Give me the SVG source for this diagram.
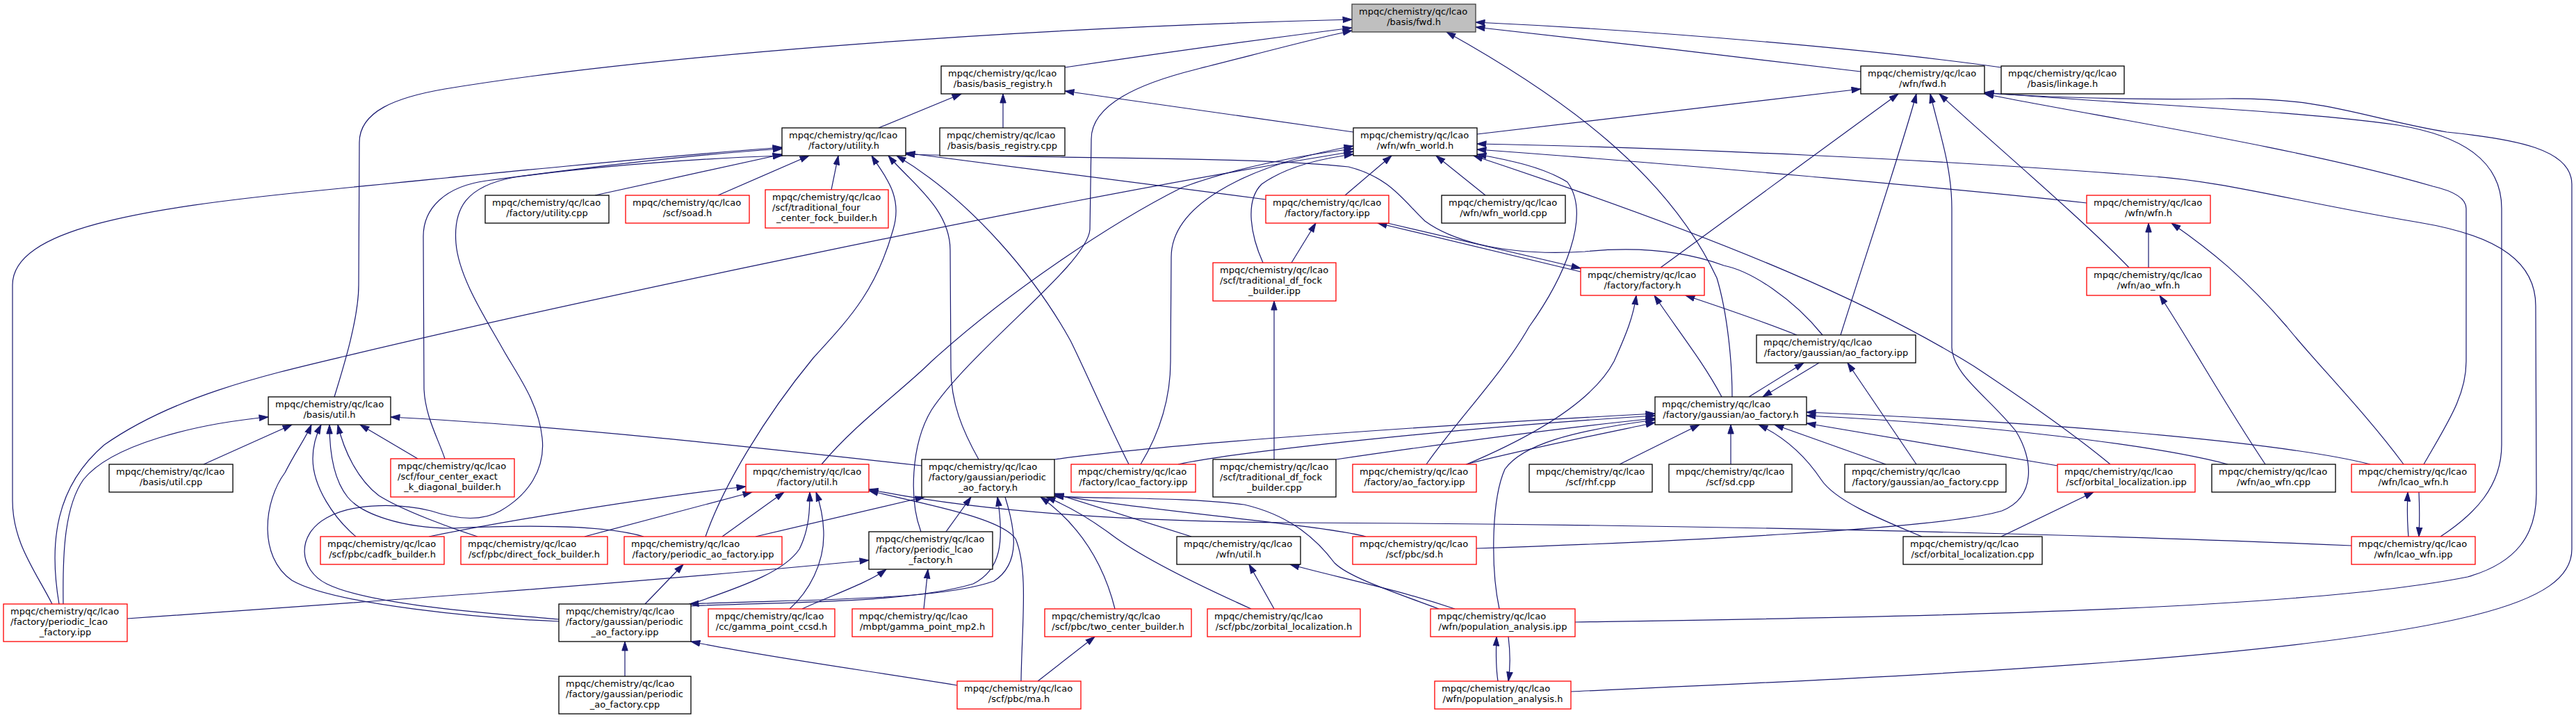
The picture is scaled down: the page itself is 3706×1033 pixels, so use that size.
<svg xmlns="http://www.w3.org/2000/svg" width="3706" height="1033" viewBox="0 0 3706 1033">
<style>
.b{fill:#fff;stroke:#000;stroke-width:1.3}
.r{fill:#fff;stroke:#f00;stroke-width:1.3}
.g{fill:#bfbfbf;stroke:#404040;stroke-width:1.3}
text{font-family:"DejaVu Sans","Liberation Sans",sans-serif;font-size:13px;fill:#000}
.m{text-anchor:middle}
.e path{fill:none;stroke:#191970;stroke-width:1.2;marker-end:url(#ah)}
</style>
<defs>
<marker id="ah" viewBox="0 0 14 10" refX="13.5" refY="5" markerWidth="14" markerHeight="10" markerUnits="userSpaceOnUse" orient="auto"><path d="M0.5,0.8 L13.5,5 L0.5,9.2 Z" fill="#191970" stroke="#191970" stroke-width="1"/></marker>
</defs>
<rect x="0" y="0" width="3706" height="1033" fill="#fff"/>
<g id="edges" class="e">
<path d="M1532,97 C1700,72 1850,52 1945,40"/>
<path d="M2879,97 C2700,72 2400,45 2123,32"/>
<path d="M2677,103 C2500,82 2300,58 2123,39"/>
<path d="M481,571 C492,535 516,460 516,410 L517,205 C517,160 570,140 640,128 C900,85 1400,42 1945,28"/>
<path d="M1325,765 C1308,720 1310,640 1340,590 C1400,500 1565,380 1568,330 L1570,200 C1570,150 1640,120 1720,100 C1800,80 1880,58 1945,44"/>
<path d="M2492,571 C2492,520 2485,450 2470,400 C2400,250 2250,140 2081,46"/>
<path d="M1264,184 L1383,135"/>
<path d="M1443,184 L1443,135"/>
<path d="M1947,190 L1532,131"/>
<path d="M2125,193 L2677,128"/>
<path d="M2389,385 L2731,135"/>
<path d="M2648,482 C2680,380 2740,200 2757,135"/>
<path d="M2124,789 C2400,780 2800,760 2880,735 C2930,715 2925,660 2900,620 C2860,570 2810,540 2808,500 L2808,300 C2808,240 2790,190 2777,135"/>
<path d="M3063,385 C2990,310 2860,200 2790,135"/>
<path d="M2260,995 C2700,975 3300,950 3560,885 C3660,860 3700,830 3700,790 L3700,265 C3700,215 3620,200 3520,190 C3400,170 3350,140 3200,142 C3080,144 2950,140 2855,134"/>
<path d="M3511,772 C3560,740 3599,700 3599,640 L3599,300 C3599,230 3540,195 3450,180 C3300,158 3050,150 2855,133"/>
<path d="M3487,668 C3520,610 3548,570 3548,520 L3548,300 C3548,285 3530,275 3500,268 C3300,210 3000,165 2855,135"/>
<path d="M856,281 L1125,222"/>
<path d="M1033,281 L1164,224"/>
<path d="M1196,273 L1206,224"/>
<path d="M75,869 C50,820 18,780 18,720 L18,410 C18,330 200,300 450,275 C700,250 950,225 1125,212"/>
<path d="M640,660 C630,630 612,600 610,560 L609,340 C609,300 640,268 700,260 C850,240 1000,222 1125,214"/>
<path d="M804,891 C700,882 530,870 470,840 C430,820 425,770 470,745 C510,722 580,725 620,735 C650,745 690,752 720,735 C760,712 785,675 780,630 C775,580 745,540 725,505 C700,460 660,400 656,350 C652,300 670,268 740,255 C850,240 1000,228 1125,224"/>
<path d="M1015,772 C1040,700 1100,600 1170,515 C1220,460 1260,420 1285,330 C1300,280 1270,250 1254,224"/>
<path d="M1408,661 C1385,620 1368,580 1368,530 L1367,360 C1367,300 1310,262 1278,224"/>
<path d="M1624,668 C1590,600 1560,530 1540,490 C1490,400 1400,290 1290,224"/>
<path d="M1821,287 L1303,220"/>
<path d="M2622,482 C2580,430 2520,390 2480,382 C2420,360 2350,355 2280,362 C2150,370 2080,340 2050,318 C2020,290 2000,255 1940,240 C1800,225 1500,228 1303,222"/>
<path d="M85,869 C70,780 80,700 150,640 C250,570 380,540 494,513 C800,440 1500,290 1947,218"/>
<path d="M1182,668 C1230,610 1300,560 1340,520 C1450,420 1600,320 1700,270 C1780,240 1880,222 1947,214"/>
<path d="M1641,668 C1670,620 1684,570 1684,520 L1685,370 C1685,300 1780,240 1947,210"/>
<path d="M1817,378 C1800,340 1790,290 1815,265 C1850,240 1900,228 1947,222"/>
<path d="M1935,281 L2002,224"/>
<path d="M2137,281 L2066,224"/>
<path d="M2052,668 C2100,600 2160,540 2200,470 C2250,400 2290,310 2255,262 C2220,240 2170,230 2125,222"/>
<path d="M3036,668 C2990,630 2920,580 2840,527 C2700,440 2500,350 2120,224"/>
<path d="M2266,895 C2700,888 3300,880 3550,830 C3620,810 3649,770 3649,710 L3648,440 C3648,380 3600,340 3480,320 C3300,290 3200,260 3086,253 C2800,230 2400,212 2125,207"/>
<path d="M3002,292 C2800,270 2400,235 2125,215"/>
<path d="M1858,378 L1893,321"/>
<path d="M2274,391 L1982,321"/>
<path d="M1996,321 L2274,386"/>
<path d="M2110,668 C2200,630 2290,580 2322,520 C2340,480 2350,455 2354,425"/>
<path d="M2477,571 C2450,520 2410,470 2380,425"/>
<path d="M2585,482 C2530,460 2470,440 2425,425"/>
<path d="M1833,661 L1833,433"/>
<path d="M3091,385 L3091,321"/>
<path d="M3458,668 C3400,590 3330,520 3290,470 C3230,400 3180,360 3124,321"/>
<path d="M3259,668 C3200,580 3150,490 3107,425"/>
<path d="M2516,571 L2595,522"/>
<path d="M2757,668 L2658,522"/>
<path d="M2617,522 L2536,571"/>
<path d="M1517,661 C1700,636 2100,610 2381,595"/>
<path d="M1695,668 C1780,650 2100,615 2381,598"/>
<path d="M1922,661 C2100,635 2250,615 2381,602"/>
<path d="M2109,668 C2200,645 2300,625 2381,608"/>
<path d="M2157,876 C2145,820 2145,720 2165,675 C2190,640 2260,620 2381,604"/>
<path d="M2330,668 L2445,611"/>
<path d="M2490,668 L2490,611"/>
<path d="M2765,772 C2700,745 2640,720 2620,690 C2600,660 2570,630 2530,611"/>
<path d="M2713,668 L2553,611"/>
<path d="M2960,670 L2599,609"/>
<path d="M3205,668 C3100,640 2850,610 2599,598"/>
<path d="M3410,668 C3300,640 3000,610 2599,593"/>
<path d="M2879,772 L3012,708"/>
<path d="M3465,772 C3463,750 3463,730 3464,708"/>
<path d="M3480,708 C3481,730 3481,750 3480,772"/>
<path d="M91,869 C90,800 92,730 120,690 C160,640 280,610 386,600"/>
<path d="M293,668 L420,611"/>
<path d="M804,894 C700,890 480,870 420,835 C370,800 380,720 410,680 C425,650 440,630 448,611"/>
<path d="M512,772 C480,745 450,700 450,660 C450,640 455,625 462,611"/>
<path d="M926,772 C870,755 760,755 650,760 C580,760 520,740 500,715 C480,690 474,650 474,611"/>
<path d="M687,772 C650,760 580,735 545,713 C515,690 495,650 486,611"/>
<path d="M601,660 L518,611"/>
<path d="M1326,670 C1100,645 800,612 562,600"/>
<path d="M617,772 C700,755 900,720 1073,700"/>
<path d="M841,772 L1082,708"/>
<path d="M1039,772 L1128,708"/>
<path d="M994,869 C1080,840 1130,820 1150,790 C1165,760 1165,730 1165,708"/>
<path d="M1136,876 C1165,850 1185,810 1185,770 C1185,745 1180,725 1174,708"/>
<path d="M1469,980 C1470,900 1480,820 1461,775 C1440,745 1330,725 1250,706"/>
<path d="M3383,785 C3000,768 2400,754 1860,752 C1600,750 1400,735 1250,704"/>
<path d="M1361,765 L1397,715"/>
<path d="M994,872 C1100,866 1300,870 1400,840 C1440,820 1445,780 1435,715"/>
<path d="M1446,715 C1460,760 1470,810 1430,836 C1350,865 1150,862 992,869"/>
<path d="M1087,772 L1330,715"/>
<path d="M1604,876 C1590,820 1560,760 1497,715"/>
<path d="M1800,876 C1720,840 1640,800 1600,770 C1560,740 1530,725 1505,715"/>
<path d="M1714,772 L1517,710"/>
<path d="M1965,772 C1900,755 1650,735 1517,712"/>
<path d="M2070,876 C2000,850 1940,830 1920,810 C1890,770 1850,740 1790,726 C1700,715 1600,718 1517,714"/>
<path d="M183,890 C500,868 900,840 1250,806"/>
<path d="M1154,876 C1200,855 1250,838 1275,819"/>
<path d="M1329,876 L1335,819"/>
<path d="M928,869 L983,812"/>
<path d="M899,973 L899,923"/>
<path d="M1377,986 C1250,965 1100,945 994,923"/>
<path d="M1493,980 L1575,916"/>
<path d="M1833,876 L1797,812"/>
<path d="M2093,876 C2000,845 1920,830 1856,812"/>
<path d="M2155,980 C2152,960 2152,940 2153,916"/>
<path d="M2170,916 C2173,940 2173,960 2170,980"/>
</g>
<g id="n1"><rect class="g" x="1945" y="6" width="178" height="40"/><text x="1955" y="20.5">mpqc/chemistry/qc/lcao</text><text class="m" x="2034" y="35.5">/basis/fwd.h</text></g>
<g id="n2"><rect class="b" x="1354" y="95" width="178" height="40"/><text x="1364" y="109.5">mpqc/chemistry/qc/lcao</text><text class="m" x="1443" y="124.5">/basis/basis_registry.h</text></g>
<g id="n3"><rect class="b" x="2677" y="95" width="178" height="40"/><text x="2687" y="109.5">mpqc/chemistry/qc/lcao</text><text class="m" x="2766" y="124.5">/wfn/fwd.h</text></g>
<g id="n4"><rect class="b" x="2879" y="95" width="177" height="40"/><text x="2889" y="109.5">mpqc/chemistry/qc/lcao</text><text class="m" x="2967.5" y="124.5">/basis/linkage.h</text></g>
<g id="n5"><rect class="b" x="1125" y="184" width="178" height="40"/><text x="1135" y="198.5">mpqc/chemistry/qc/lcao</text><text class="m" x="1214" y="213.5">/factory/utility.h</text></g>
<g id="n6"><rect class="b" x="1352" y="184" width="180" height="40"/><text x="1362" y="198.5">mpqc/chemistry/qc/lcao</text><text class="m" x="1442" y="213.5">/basis/basis_registry.cpp</text></g>
<g id="n7"><rect class="b" x="1947" y="184" width="178" height="40"/><text x="1957" y="198.5">mpqc/chemistry/qc/lcao</text><text class="m" x="2036" y="213.5">/wfn/wfn_world.h</text></g>
<g id="n8"><rect class="b" x="698" y="281" width="178" height="40"/><text x="708" y="295.5">mpqc/chemistry/qc/lcao</text><text class="m" x="787" y="310.5">/factory/utility.cpp</text></g>
<g id="n9"><rect class="r" x="900" y="281" width="178" height="40"/><text x="910" y="295.5">mpqc/chemistry/qc/lcao</text><text class="m" x="989" y="310.5">/scf/soad.h</text></g>
<g id="n10"><rect class="r" x="1101" y="273" width="177" height="55"/><text x="1111" y="287.5">mpqc/chemistry/qc/lcao</text><text x="1111" y="302.5">/scf/traditional_four</text><text class="m" x="1189.5" y="317.5">_center_fock_builder.h</text></g>
<g id="n11"><rect class="r" x="1821" y="281" width="177" height="40"/><text x="1831" y="295.5">mpqc/chemistry/qc/lcao</text><text class="m" x="1909.5" y="310.5">/factory/factory.ipp</text></g>
<g id="n12"><rect class="b" x="2074" y="281" width="178" height="40"/><text x="2084" y="295.5">mpqc/chemistry/qc/lcao</text><text class="m" x="2163" y="310.5">/wfn/wfn_world.cpp</text></g>
<g id="n13"><rect class="r" x="3002" y="281" width="178" height="40"/><text x="3012" y="295.5">mpqc/chemistry/qc/lcao</text><text class="m" x="3091" y="310.5">/wfn/wfn.h</text></g>
<g id="n14"><rect class="r" x="1745" y="378" width="177" height="55"/><text x="1755" y="392.5">mpqc/chemistry/qc/lcao</text><text x="1755" y="407.5">/scf/traditional_df_fock</text><text class="m" x="1833.5" y="422.5">_builder.ipp</text></g>
<g id="n15"><rect class="r" x="2274" y="385" width="178" height="40"/><text x="2284" y="399.5">mpqc/chemistry/qc/lcao</text><text class="m" x="2363" y="414.5">/factory/factory.h</text></g>
<g id="n16"><rect class="r" x="3002" y="385" width="178" height="40"/><text x="3012" y="399.5">mpqc/chemistry/qc/lcao</text><text class="m" x="3091" y="414.5">/wfn/ao_wfn.h</text></g>
<g id="n17"><rect class="b" x="2527" y="482" width="229" height="40"/><text x="2537" y="496.5">mpqc/chemistry/qc/lcao</text><text class="m" x="2641.5" y="511.5">/factory/gaussian/ao_factory.ipp</text></g>
<g id="n18"><rect class="b" x="386" y="571" width="176" height="40"/><text x="396" y="585.5">mpqc/chemistry/qc/lcao</text><text class="m" x="474" y="600.5">/basis/util.h</text></g>
<g id="n19"><rect class="b" x="2381" y="571" width="218" height="40"/><text x="2391" y="585.5">mpqc/chemistry/qc/lcao</text><text class="m" x="2490" y="600.5">/factory/gaussian/ao_factory.h</text></g>
<g id="n20"><rect class="b" x="157" y="668" width="178" height="40"/><text x="167" y="682.5">mpqc/chemistry/qc/lcao</text><text class="m" x="246" y="697.5">/basis/util.cpp</text></g>
<g id="n21"><rect class="r" x="562" y="660" width="178" height="55"/><text x="572" y="674.5">mpqc/chemistry/qc/lcao</text><text x="572" y="689.5">/scf/four_center_exact</text><text class="m" x="651" y="704.5">_k_diagonal_builder.h</text></g>
<g id="n22"><rect class="r" x="1073" y="668" width="177" height="40"/><text x="1083" y="682.5">mpqc/chemistry/qc/lcao</text><text class="m" x="1161.5" y="697.5">/factory/util.h</text></g>
<g id="n23"><rect class="b" x="1326" y="661" width="191" height="54"/><text x="1336" y="675.5">mpqc/chemistry/qc/lcao</text><text x="1336" y="690.5">/factory/gaussian/periodic</text><text class="m" x="1421.5" y="705.5">_ao_factory.h</text></g>
<g id="n24"><rect class="r" x="1541" y="668" width="179" height="40"/><text x="1551" y="682.5">mpqc/chemistry/qc/lcao</text><text class="m" x="1630.5" y="697.5">/factory/lcao_factory.ipp</text></g>
<g id="n25"><rect class="b" x="1745" y="661" width="177" height="54"/><text x="1755" y="675.5">mpqc/chemistry/qc/lcao</text><text x="1755" y="690.5">/scf/traditional_df_fock</text><text class="m" x="1833.5" y="705.5">_builder.cpp</text></g>
<g id="n26"><rect class="r" x="1946" y="668" width="178" height="40"/><text x="1956" y="682.5">mpqc/chemistry/qc/lcao</text><text class="m" x="2035" y="697.5">/factory/ao_factory.ipp</text></g>
<g id="n27"><rect class="b" x="2200" y="668" width="177" height="40"/><text x="2210" y="682.5">mpqc/chemistry/qc/lcao</text><text class="m" x="2288.5" y="697.5">/scf/rhf.cpp</text></g>
<g id="n28"><rect class="b" x="2401" y="668" width="177" height="40"/><text x="2411" y="682.5">mpqc/chemistry/qc/lcao</text><text class="m" x="2489.5" y="697.5">/scf/sd.cpp</text></g>
<g id="n29"><rect class="b" x="2654" y="668" width="232" height="40"/><text x="2664" y="682.5">mpqc/chemistry/qc/lcao</text><text class="m" x="2770" y="697.5">/factory/gaussian/ao_factory.cpp</text></g>
<g id="n30"><rect class="r" x="2960" y="668" width="198" height="40"/><text x="2970" y="682.5">mpqc/chemistry/qc/lcao</text><text class="m" x="3059" y="697.5">/scf/orbital_localization.ipp</text></g>
<g id="n31"><rect class="b" x="3182" y="668" width="178" height="40"/><text x="3192" y="682.5">mpqc/chemistry/qc/lcao</text><text class="m" x="3271" y="697.5">/wfn/ao_wfn.cpp</text></g>
<g id="n32"><rect class="r" x="3383" y="668" width="178" height="40"/><text x="3393" y="682.5">mpqc/chemistry/qc/lcao</text><text class="m" x="3472" y="697.5">/wfn/lcao_wfn.h</text></g>
<g id="n33"><rect class="r" x="461" y="772" width="178" height="40"/><text x="471" y="786.5">mpqc/chemistry/qc/lcao</text><text class="m" x="550" y="801.5">/scf/pbc/cadfk_builder.h</text></g>
<g id="n34"><rect class="r" x="663" y="772" width="211" height="40"/><text x="673" y="786.5">mpqc/chemistry/qc/lcao</text><text class="m" x="768.5" y="801.5">/scf/pbc/direct_fock_builder.h</text></g>
<g id="n35"><rect class="r" x="898" y="772" width="227" height="40"/><text x="908" y="786.5">mpqc/chemistry/qc/lcao</text><text class="m" x="1011.5" y="801.5">/factory/periodic_ao_factory.ipp</text></g>
<g id="n36"><rect class="b" x="1250" y="765" width="178" height="54"/><text x="1260" y="779.5">mpqc/chemistry/qc/lcao</text><text x="1260" y="794.5">/factory/periodic_lcao</text><text class="m" x="1339" y="809.5">_factory.h</text></g>
<g id="n37"><rect class="b" x="1693" y="772" width="178" height="40"/><text x="1703" y="786.5">mpqc/chemistry/qc/lcao</text><text class="m" x="1782" y="801.5">/wfn/util.h</text></g>
<g id="n38"><rect class="r" x="1946" y="772" width="178" height="40"/><text x="1956" y="786.5">mpqc/chemistry/qc/lcao</text><text class="m" x="2035" y="801.5">/scf/pbc/sd.h</text></g>
<g id="n39"><rect class="b" x="2738" y="772" width="200" height="40"/><text x="2748" y="786.5">mpqc/chemistry/qc/lcao</text><text class="m" x="2838" y="801.5">/scf/orbital_localization.cpp</text></g>
<g id="n40"><rect class="r" x="3383" y="772" width="178" height="40"/><text x="3393" y="786.5">mpqc/chemistry/qc/lcao</text><text class="m" x="3472" y="801.5">/wfn/lcao_wfn.ipp</text></g>
<g id="n41"><rect class="r" x="5" y="869" width="178" height="54"/><text x="15" y="883.5">mpqc/chemistry/qc/lcao</text><text x="15" y="898.5">/factory/periodic_lcao</text><text class="m" x="94" y="913.5">_factory.ipp</text></g>
<g id="n42"><rect class="b" x="804" y="869" width="190" height="54"/><text x="814" y="883.5">mpqc/chemistry/qc/lcao</text><text x="814" y="898.5">/factory/gaussian/periodic</text><text class="m" x="899" y="913.5">_ao_factory.ipp</text></g>
<g id="n43"><rect class="r" x="1019" y="876" width="182" height="40"/><text x="1029" y="890.5">mpqc/chemistry/qc/lcao</text><text class="m" x="1110" y="905.5">/cc/gamma_point_ccsd.h</text></g>
<g id="n44"><rect class="r" x="1226" y="876" width="202" height="40"/><text x="1236" y="890.5">mpqc/chemistry/qc/lcao</text><text class="m" x="1327" y="905.5">/mbpt/gamma_point_mp2.h</text></g>
<g id="n45"><rect class="r" x="1503" y="876" width="211" height="40"/><text x="1513" y="890.5">mpqc/chemistry/qc/lcao</text><text class="m" x="1608.5" y="905.5">/scf/pbc/two_center_builder.h</text></g>
<g id="n46"><rect class="r" x="1737" y="876" width="220" height="40"/><text x="1747" y="890.5">mpqc/chemistry/qc/lcao</text><text class="m" x="1847" y="905.5">/scf/pbc/zorbital_localization.h</text></g>
<g id="n47"><rect class="r" x="2058" y="876" width="208" height="40"/><text x="2068" y="890.5">mpqc/chemistry/qc/lcao</text><text class="m" x="2162" y="905.5">/wfn/population_analysis.ipp</text></g>
<g id="n48"><rect class="b" x="804" y="973" width="190" height="54"/><text x="814" y="987.5">mpqc/chemistry/qc/lcao</text><text x="814" y="1002.5">/factory/gaussian/periodic</text><text class="m" x="899" y="1017.5">_ao_factory.cpp</text></g>
<g id="n49"><rect class="r" x="1377" y="980" width="178" height="40"/><text x="1387" y="994.5">mpqc/chemistry/qc/lcao</text><text class="m" x="1466" y="1009.5">/scf/pbc/ma.h</text></g>
<g id="n50"><rect class="r" x="2064" y="980" width="196" height="40"/><text x="2074" y="994.5">mpqc/chemistry/qc/lcao</text><text class="m" x="2162" y="1009.5">/wfn/population_analysis.h</text></g>
</svg>
